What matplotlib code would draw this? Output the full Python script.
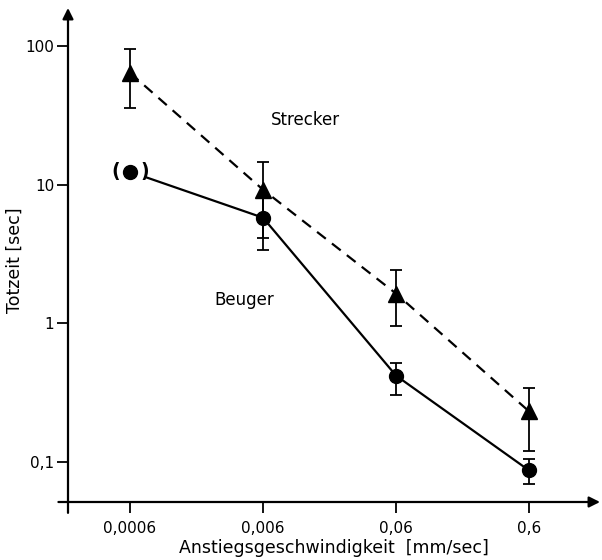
import matplotlib
matplotlib.use("Agg")
import matplotlib.pyplot as plt

# Rise speed (mm/sec) and dead time (sec) measurements
speeds = [0.0006, 0.006, 0.06, 0.6]
speed_labels = ["0,0006", "0,006", "0,06", "0,6"]

strecker = [64.0, 9.2, 1.64, 0.232]
strecker_hi = [95.0, 14.6, 2.44, 0.34]
strecker_lo = [36.0, 4.15, 0.95, 0.121]

beuger = [12.4, 5.78, 0.42, 0.087]
beuger_hi = [12.4, 8.2, 0.518, 0.105]
beuger_lo = [12.4, 3.36, 0.305, 0.069]
beuger_has_err = [False, True, True, True]

y_ticks = [0.1, 1, 10, 100]
y_tick_labels = ["0,1", "1", "10", "100"]

plt.rcParams['font.family'] = ['DejaVu Sans']

fig = plt.figure(figsize=(6.02, 5.6), dpi=100)
ax = fig.add_axes([68 / 602, 1 - 502 / 560, (600 - 68) / 602, (502 - 8) / 560])
ax.set_xscale("log")
ax.set_yscale("log")
ax.set_xlim(0.000205, 2.05)
ax.set_ylim(0.0515, 188)

for s in ax.spines.values():
    s.set_visible(False)

# Axis lines with arrowheads, crossing slightly at the origin
ax.annotate("", xy=(0, 1), xytext=(0, -0.022), xycoords="axes fraction",
            arrowprops=dict(arrowstyle="-|>", lw=1.6, color="k",
                            mutation_scale=16, shrinkA=0, shrinkB=0))
ax.annotate("", xy=(1, 0), xytext=(-0.018, 0), xycoords="axes fraction",
            arrowprops=dict(arrowstyle="-|>", lw=1.6, color="k",
                            mutation_scale=16, shrinkA=0, shrinkB=0))

# Strecker: dashed line with triangles
ax.plot(speeds, strecker, linestyle=(0, (5, 3.5)), color="k", lw=1.6,
        marker="^", markersize=11, zorder=3)
ax.errorbar(speeds, strecker,
            yerr=[[v - l for v, l in zip(strecker, strecker_lo)],
                  [h - v for v, h in zip(strecker, strecker_hi)]],
            fmt="none", ecolor="k", elinewidth=1.3, capsize=4, capthick=1.3,
            zorder=3)

# Beuger: solid line with circles; the first segment stops at the parenthesis
ax.plot(speeds[1:], beuger[1:], linestyle="-", color="k", lw=1.6,
        marker="o", markersize=10, zorder=3)
ax.plot(speeds[:1], beuger[:1], linestyle="none", color="k",
        marker="o", markersize=10, zorder=3)
ax.annotate("", xy=(speeds[0], beuger[0]), xytext=(speeds[1], beuger[1]),
            arrowprops=dict(arrowstyle="-", lw=1.6, color="k",
                            shrinkA=0, shrinkB=12))
ex = [x for x, e in zip(speeds, beuger_has_err) if e]
ey = [v for v, e in zip(beuger, beuger_has_err) if e]
elo = [v - l for v, l, e in zip(beuger, beuger_lo, beuger_has_err) if e]
ehi = [h - v for v, h, e in zip(beuger, beuger_hi, beuger_has_err) if e]
ax.errorbar(ex, ey, yerr=[elo, ehi], fmt="none", ecolor="k",
            elinewidth=1.3, capsize=4, capthick=1.3, zorder=3)

# Parentheses around the uncertain first point
for sign, ch in ((-1, "("), (1, ")")):
    ax.annotate(ch, xy=(speeds[0], beuger[0]), xytext=(sign * 10.5, 0),
                textcoords="offset points", ha="center", va="center",
                fontsize=13.5, fontweight="bold", zorder=4)

ax.text(0.0124, 29.3, "Strecker", fontsize=12, ha="center", va="center")
ax.text(0.00432, 1.47, "Beuger", fontsize=12, ha="center", va="center")

ax.set_xticks(speeds)
ax.set_xticklabels(speed_labels)
ax.set_yticks(y_ticks)
ax.set_yticklabels(y_tick_labels)
ax.minorticks_off()
ax.tick_params(axis="both", direction="out", length=8, width=1.3,
               labelsize=11, pad=2)
ax.tick_params(axis="x", pad=6)

ax.set_xlabel("Anstiegsgeschwindigkeit  [mm/sec]", fontsize=12.5, labelpad=2)
ax.set_ylabel("Totzeit [sec]", fontsize=12.5)
ax.yaxis.set_label_coords(-44 / 532, 0.49)

fig.savefig("out.png", dpi=100)
